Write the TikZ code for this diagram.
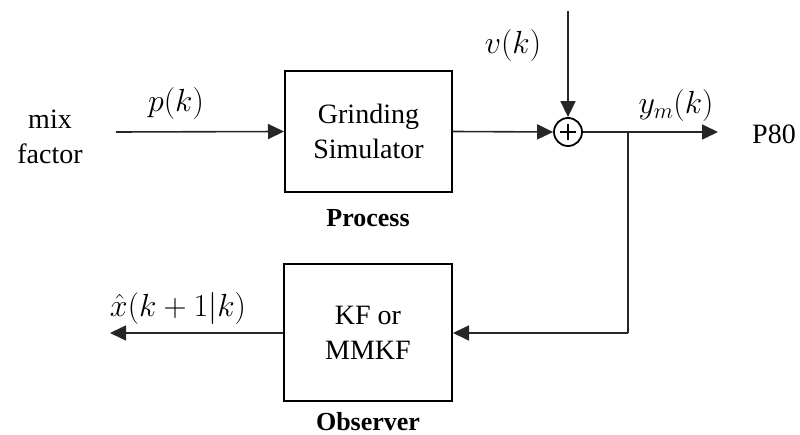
\RequirePackage{fix-cm}
\documentclass[tikz,border=0pt]{standalone}
\usepackage{fontspec}
\setmainfont{Liberation Serif}
\usetikzlibrary{arrows.meta}
\begin{document}
\begin{tikzpicture}[x=1pt,y=-1pt,
  every node/.style={font=\fontsize{28}{35}\selectfont},
  blk/.style={draw=black,line width=2pt,inner sep=0pt,align=center},
  wire/.style={draw=black!85,line width=1.6pt},
  arr/.style={wire,-{Triangle[length=16pt,width=15pt]}},
  lbl/.style={inner sep=0pt,align=center},
  mlbl/.style={inner sep=0pt,font=\fontsize{32}{38}\selectfont}]
\useasboundingbox (0,0) rectangle (800,435);
% blocks
\node[blk,minimum width=167pt,minimum height=121pt] (proc) at (368.5,131.5) {Grinding\\Simulator};
\node[blk,minimum width=168pt,minimum height=137pt] (obs) at (368,332.5) {KF or\\MMKF};
\node[draw=black,line width=1.8pt,circle,minimum size=28pt,inner sep=0pt,
  path picture={\draw[black,line width=1.6pt] ([xshift=-8pt]path picture bounding box.center) -- ([xshift=8pt]path picture bounding box.center)
   ([yshift=-8pt]path picture bounding box.center) -- ([yshift=8pt]path picture bounding box.center);}] (sum) at (568,132) {};
% coordinates
\coordinate (in) at (116,132);
\coordinate (top) at (568,11);
\coordinate (out) at (718,132);
\coordinate (br) at (628,132);
\coordinate (br2) at (628,333);
\coordinate (xout) at (110,333);
% connectors
\draw[arr] (in) -- (proc.west);
\draw[arr] (proc.east) -- (sum.west);
\draw[arr] (top) -- (sum.north);
\draw[arr] (sum.east) -- (out);
\draw[wire] (br) -- (br2);
\draw[arr] (br2) -- (obs.east |- br2);
\draw[arr] (obs.west |- br2) -- (xout);
% labels
\node[lbl] (mix) at (50,137) {mix\\factor};
\node[lbl,anchor=west] (p80) at (752,134) {P80};
\node[mlbl] (pk) at (176,104) {$p(k)$};
\node[mlbl] (vk) at (513,46) {$v(k)$};
\node[mlbl] (ymk) at (676,106) {$y_m(k)$};
\node[mlbl,anchor=south] (xhat) at (178,325) {$\hat{x}(k+1|k)$};
\node[lbl,font=\fontsize{26}{30}\selectfont\bfseries] (plbl) at (368,218) {Process};
\node[lbl,font=\fontsize{26}{30}\selectfont\bfseries] (olbl) at (368,422) {Observer};
\end{tikzpicture}
\end{document}
